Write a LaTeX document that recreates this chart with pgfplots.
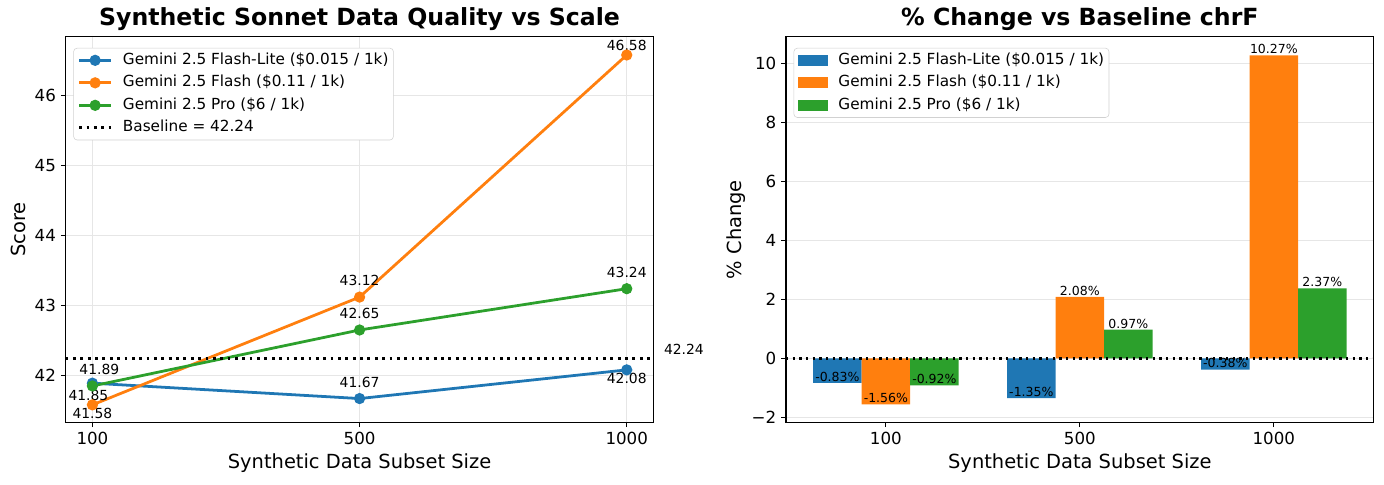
\documentclass[border=0pt]{standalone}
\usepackage{fontspec}
\setmainfont{DejaVu Sans}
\usepackage{pgfplots}
\pgfplotsset{compat=1.18}

\definecolor{tabblue}{HTML}{1F77B4}
\definecolor{taborange}{HTML}{FF7F0E}
\definecolor{tabgreen}{HTML}{2CA02C}
\definecolor{gridgray}{HTML}{E6E6E6}
\newcommand{\fs}[1]{\fontsize{#1bp}{#1bp}\selectfont}

\pgfplotsset{
  common/.style={
    scale only axis,
    width=423.2bp, height=277.6bp,
    axis line style={line width=0.8bp},
    tick style={line width=0.8bp, black},
    tick align=outside,
    major tick length=3.5bp,
    xtick pos=lower, ytick pos=lower,
    tick label style={font=\fs{12}},
    label style={font=\fs{14}},
    every axis title shift=0pt,
    title style={font=\bfseries\fs{17}, at={(axis description cs:0.5,1.045)}, anchor=center, yshift=0pt},
    xlabel style={at={(axis description cs:0.5,-0.106)}, anchor=center},
    grid style={gridgray, line width=0.8bp},
    /pgf/number format/assume math mode=true,
    legend cell align=left,
    legend style={
      at={(0,1)}, anchor=north west, xshift=5.5bp, yshift=-8bp,
      draw=black!18, rounded corners=2.5bp, fill=white,
      font=\fs{11}, inner sep=3bp, row sep=4.7bp,
      nodes={inner sep=0.5bp, text height=8bp, text depth=2.5bp},
      /tikz/every odd column/.append style={column sep=7bp},
    },
    clip=false,
  },
  linelegend/.style={legend image code/.code={\draw[sharp corners, mark repeat=2, mark phase=2, ##1] plot coordinates {(0bp,0bp)(11.5bp,0bp)(23bp,0bp)};}},
  barlegend/.style={legend image code/.code={\path[fill, draw=none, ##1, sharp corners] (0bp,-4bp) rectangle (21.6bp,4bp);}},
  ln/.style={#1, line width=2bp, mark=*, mark size=3bp, mark options={solid, fill=#1, draw=#1}},
  barlab/.style={nodes near coords={\pgfmathprintnumber[fixed, fixed zerofill, precision=2]{\pgfplotspointmeta}\%},
    every node near coord/.append style={font=\fs{9}, anchor=south, inner sep=0.8bp, black, text opacity=1}},
}

\begin{document}
\begin{tikzpicture}
\path[use as bounding box] (-47.3bp,-44.4bp) rectangle (949.2bp,304.1bp);

\begin{axis}[common, at={(0,0)}, anchor=south west, linelegend,
  xmin=-0.1, xmax=2.1, ymin=41.33, ymax=46.84,
  xtick={0,1,2}, xticklabels={100,500,1000},
  ytick={42,43,44,45,46},
  grid=major,
  title={Synthetic Sonnet Data Quality vs Scale},
  xlabel={Synthetic Data Subset Size},
  ylabel={Score},
  ylabel style={at={(axis description cs:-0.0807,0.5)}, anchor=center},
]
\addplot[ln=tabblue] coordinates {(0,41.89) (1,41.67) (2,42.08)};
\addlegendentry{Gemini 2.5 Flash-Lite (\$0.015 / 1k)}
\addplot[ln=taborange] coordinates {(0,41.58) (1,43.12) (2,46.58)};
\addlegendentry{Gemini 2.5 Flash (\$0.11 / 1k)}
\addplot[ln=tabgreen] coordinates {(0,41.85) (1,42.65) (2,43.24)};
\addlegendentry{Gemini 2.5 Pro (\$6 / 1k)}
\addplot[black, line width=2bp, dash pattern=on 2bp off 3.3bp, mark=none] coordinates {(-0.1,42.24) (2.1,42.24)};
\addlegendentry{Baseline = 42.24}

\begin{scope}[every node/.style={font=\fs{10}, inner sep=0pt}]
\node[xshift=5bp, yshift=9.6bp] at (axis cs:0,41.89) {41.89};
\node[xshift=-2.9bp, yshift=-6.5bp] at (axis cs:0,41.85) {41.85};
\node[yshift=-6.5bp] at (axis cs:0,41.58) {41.58};
\node[yshift=11.9bp] at (axis cs:1,41.67) {41.67};
\node[yshift=11.9bp] at (axis cs:1,43.12) {43.12};
\node[yshift=11.9bp] at (axis cs:1,42.65) {42.65};
\node[yshift=11.9bp] at (axis cs:2,43.24) {43.24};
\node[yshift=-6bp] at (axis cs:2,42.08) {42.08};
\node[yshift=6.7bp] at (axis cs:2,46.58) {46.58};
\node at (axis cs:2.214,42.367) {42.24};
\end{scope}
\end{axis}

\begin{axis}[common, at={(518.6bp,0)}, anchor=south west, barlegend,
  xmin=-0.515, xmax=2.515, ymin=-2.17, ymax=10.9,
  xtick={0,1,2}, xticklabels={100,500,1000},
  ytick={-2,0,2,4,6,8,10}, yticklabels={−2,0,2,4,6,8,10},
  ymajorgrids,
  title={\% Change vs Baseline chrF},
  xlabel={Synthetic Data Subset Size},
  ylabel={\% Change},
  ylabel style={at={(axis description cs:-0.085,0.5)}, anchor=center},
]
\addplot[ybar, bar width=0.25, bar shift=0pt, fill=tabblue, draw=none, barlab] coordinates {(-0.25,-0.83) (0.75,-1.35) (1.75,-0.38)};
\addlegendentry{Gemini 2.5 Flash-Lite (\$0.015 / 1k)}
\addplot[ybar, bar width=0.25, bar shift=0pt, fill=taborange, draw=none, barlab] coordinates {(0,-1.56) (1,2.08) (2,10.27)};
\addlegendentry{Gemini 2.5 Flash (\$0.11 / 1k)}
\addplot[ybar, bar width=0.25, bar shift=0pt, fill=tabgreen, draw=none, barlab] coordinates {(0.25,-0.92) (1.25,0.97) (2.25,2.37)};
\addlegendentry{Gemini 2.5 Pro (\$6 / 1k)}
\addplot[black, line width=1.8bp, dash pattern=on 1.8bp off 3bp, mark=none, forget plot] coordinates {(-0.515,0) (2.515,0)};
\end{axis}
\end{tikzpicture}
\end{document}
